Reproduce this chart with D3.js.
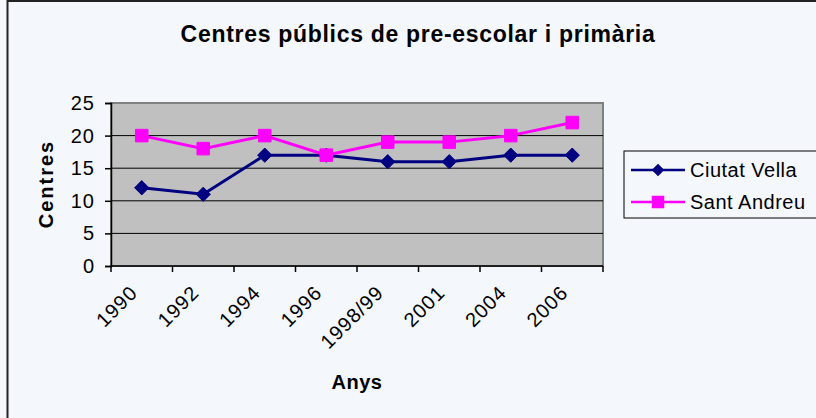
<!DOCTYPE html>
<html>
<head>
<meta charset="utf-8">
<script src="https://cdn.jsdelivr.net/npm/d3@7"></script>
<style>
  html, body { margin: 0; padding: 0; background: #f4f7fc; }
  svg text { font-family: "Liberation Sans", Arial, sans-serif; fill: #000; }
</style>
</head>
<body>
<svg id="chart" width="816" height="418"></svg>
<script>
// chart data
const years = ["1990", "1992", "1994", "1996", "1998/99", "2001", "2004", "2006"];
const ciutatVella = [12, 11, 17, 17, 16, 16, 17, 17];
const santAndreu = [20, 18, 20, 17, 19, 19, 20, 22];
const yTicks = [0, 5, 10, 15, 20, 25];

const seriesList = [
  { name: "Ciutat Vella", values: ciutatVella, color: "#000080", marker: "diamond" },
  { name: "Sant Andreu", values: santAndreu, color: "#ff00ff", marker: "square" }
];

const svg = d3.select("#chart");

// outer chart frame (right/bottom edges fall outside the picture)
svg.append("rect")
  .attr("x", 7.5).attr("y", 1)
  .attr("width", 830).attr("height", 440)
  .attr("fill", "#f4f7fc")
  .attr("stroke", "#222").attr("stroke-width", 2);

const plot = { left: 111, top: 103, right: 603, bottom: 266 };

const x = d3.scaleBand()
  .domain(years)
  .range([plot.left, plot.right]);

const y = d3.scaleLinear()
  .domain([0, 25])
  .range([plot.bottom, plot.top]);

// plot area
svg.append("rect")
  .attr("x", plot.left).attr("y", plot.top)
  .attr("width", plot.right - plot.left).attr("height", plot.bottom - plot.top)
  .attr("fill", "#c0c0c0")
  .attr("stroke", "#808080").attr("stroke-width", 2);

// gridlines
svg.append("g")
  .selectAll("line")
  .data(yTicks.filter(d => d > 0 && d < 25))
  .enter().append("line")
  .attr("x1", plot.left).attr("x2", plot.right)
  .attr("y1", d => y(d)).attr("y2", d => y(d))
  .attr("stroke", "#000").attr("stroke-width", 1);

// y axis
const yAxis = svg.append("g")
  .attr("transform", `translate(${plot.left},0)`)
  .call(d3.axisLeft(y).tickValues(yTicks).tickSize(6).tickPadding(10));
yAxis.select(".domain").attr("stroke", "#000").attr("stroke-width", 1.5);
yAxis.selectAll(".tick line").attr("stroke", "#000").attr("stroke-width", 1.5);
yAxis.selectAll("text")
  .attr("font-size", "20px")
  .attr("letter-spacing", "1px")
  .attr("font-family", null)
  .attr("fill", "#000");

// x axis: ticks on category boundaries
const boundaries = d3.range(years.length + 1).map(i => plot.left + i * x.bandwidth());
svg.append("line")
  .attr("x1", plot.left).attr("x2", plot.right)
  .attr("y1", plot.bottom).attr("y2", plot.bottom)
  .attr("stroke", "#000").attr("stroke-width", 1.5);
svg.append("g")
  .selectAll("line")
  .data(boundaries)
  .enter().append("line")
  .attr("x1", d => d).attr("x2", d => d)
  .attr("y1", plot.bottom).attr("y2", plot.bottom + 6)
  .attr("stroke", "#000").attr("stroke-width", 1.5);

svg.append("g")
  .selectAll("text")
  .data(years)
  .enter().append("text")
  .attr("transform", d => `translate(${x(d) + x.bandwidth() / 2 - 3},${294}) rotate(-45)`)
  .attr("text-anchor", "end")
  .attr("font-size", "20px")
  .attr("letter-spacing", "1px")
  .text(d => d);

// lines and markers
const line = d3.line()
  .x((d, i) => x(years[i]) + x.bandwidth() / 2)
  .y(d => y(d));

seriesList.forEach(s => {
  svg.append("path")
    .datum(s.values)
    .attr("d", line)
    .attr("fill", "none")
    .attr("stroke", s.color)
    .attr("stroke-width", 3);

  const sym = s.marker === "diamond"
    ? d3.symbol().type(d3.symbolDiamond2).size(130)
    : d3.symbol().type(d3.symbolSquare2).size(200);

  svg.append("g")
    .selectAll("path")
    .data(s.values)
    .enter().append("path")
    .attr("d", sym)
    .attr("transform", (d, i) => `translate(${x(years[i]) + x.bandwidth() / 2},${y(d)})`)
    .attr("fill", s.color)
    .attr("stroke", s.color)
    .attr("stroke-width", 1);
});

// title
svg.append("text")
  .attr("x", 418).attr("y", 42)
  .attr("text-anchor", "middle")
  .attr("font-size", "23px")
  .attr("font-weight", "bold")
  .attr("letter-spacing", "0.7px")
  .text("Centres públics de pre-escolar i primària");

// axis titles
svg.append("text")
  .attr("x", 357).attr("y", 389)
  .attr("text-anchor", "middle")
  .attr("font-size", "20px")
  .attr("font-weight", "bold")
  .attr("letter-spacing", "0.5px")
  .text("Anys");

svg.append("text")
  .attr("transform", "translate(53,184) rotate(-90)")
  .attr("text-anchor", "middle")
  .attr("font-size", "20px")
  .attr("font-weight", "bold")
  .attr("letter-spacing", "2px")
  .text("Centres");

// legend
const legend = svg.append("g").attr("transform", "translate(624,151)");
legend.append("rect")
  .attr("width", 200).attr("height", 67)
  .attr("fill", "#f4f7fc")
  .attr("stroke", "#000").attr("stroke-width", 1);

const rows = legend.selectAll("g.row")
  .data(seriesList)
  .enter().append("g")
  .attr("class", "row")
  .attr("transform", (d, i) => `translate(0,${19 + i * 32})`);

rows.append("line")
  .attr("x1", 7).attr("x2", 61)
  .attr("stroke", d => d.color).attr("stroke-width", 2.5);

rows.append("path")
  .attr("d", d => d.marker === "diamond"
    ? d3.symbol().type(d3.symbolDiamond2).size(100)()
    : d3.symbol().type(d3.symbolSquare2).size(200)())
  .attr("transform", "translate(34,0)")
  .attr("fill", d => d.color);

rows.append("text")
  .attr("x", 66).attr("y", 7)
  .attr("font-size", "20px")
  .attr("letter-spacing", "0.5px")
  .text(d => d.name);
</script>
</body>
</html>
